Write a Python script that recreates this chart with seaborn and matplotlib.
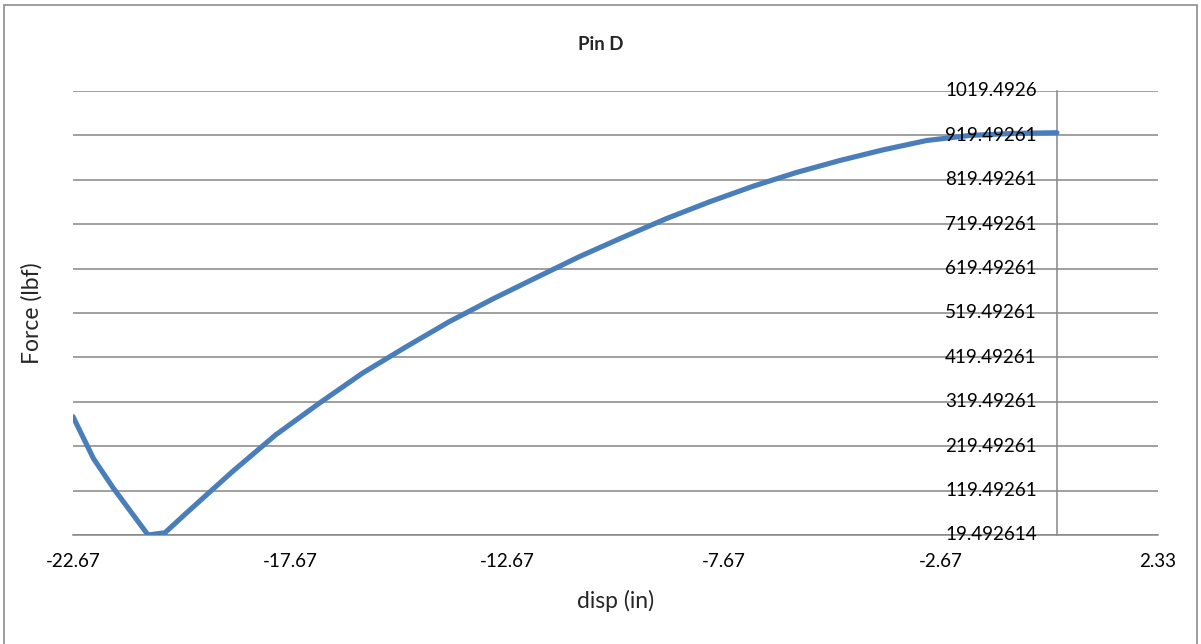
import matplotlib
matplotlib.use("Agg")
import matplotlib.pyplot as plt
import seaborn as sns
import pandas as pd
from matplotlib.patches import Rectangle

# ---- data ----
disp = [-22.67, -22.20, -21.74, -20.94, -20.55, -20.0, -19.0, -18.0, -17.0,
        -16.0, -15.0, -14.0, -13.0, -12.0, -11.0, -10.0, -9.0, -8.0, -7.0,
        -6.0, -5.0, -4.0, -3.0, -2.0, -1.0, 0.0]
force = [286.0, 192.0, 125.0, 19.5, 24.7, 74.0, 162.0, 245.0, 316.0,
         384.0, 443.0, 500.0, 551.0, 599.0, 646.5, 690.0, 732.0, 770.0, 805.0,
         836.0, 863.0, 887.0, 908.0, 919.5, 924.0, 925.6]
x_ticks = [-22.67, -17.67, -12.67, -7.67, -2.67, 2.33]
x_tick_labels = ["-22.67", "-17.67", "-12.67", "-7.67", "-2.67", "2.33"]
y_ticks = [19.492614, 119.49261, 219.49261, 319.49261, 419.49261, 519.49261,
           619.49261, 719.49261, 819.49261, 919.49261, 1019.4926]
y_tick_labels = ["19.492614", "119.49261", "219.49261", "319.49261", "419.49261",
                 "519.49261", "619.49261", "719.49261", "819.49261", "919.49261",
                 "1019.4926"]
title = "Pin D"
x_label = "disp (in)"
y_label = "Force (lbf)"

sns.set_style("white")
plt.rcParams["font.family"] = ["Lato", "DejaVu Sans"]

W, H = 1201, 644
fig = plt.figure(figsize=(W / 100, H / 100), dpi=100)
ax = fig.add_axes([73 / W, (H - 535) / H, 1085 / W, 444 / H])

df = pd.DataFrame({"disp": disp, "force": force})
sns.lineplot(data=df, x="disp", y="force", sort=False, ax=ax,
             color="#4A7EBB", linewidth=3.7, solid_capstyle="round",
             solid_joinstyle="round", zorder=5)

grid_col = "#868686"
ax.set_xlim(x_ticks[0], x_ticks[-1])
ax.set_ylim(y_ticks[0], y_ticks[-1])
ax.set_xticks(x_ticks)
ax.set_xticklabels(x_tick_labels)
ax.set_yticks(y_ticks)
ax.set_yticklabels([])

# y tick labels drawn above the curve, as in the reference
for yv, lab in zip(y_ticks, y_tick_labels):
    ax.annotate(lab, xy=(0, yv), xycoords="data", xytext=(-14.5, 0),
                textcoords="offset points", ha="right", va="center",
                fontsize=13.5, color="black", zorder=10, annotation_clip=False)

ax.yaxis.grid(True, color=grid_col, linewidth=1.1)
ax.xaxis.grid(False)
ax.set_axisbelow(True)

for s in ["top", "right"]:
    ax.spines[s].set_visible(False)
ax.spines["left"].set_position(("data", 0))
ax.spines["left"].set_color(grid_col)
ax.spines["left"].set_linewidth(1.1)
ax.spines["bottom"].set_color(grid_col)
ax.spines["bottom"].set_linewidth(1.1)

ax.tick_params(axis="y", direction="inout", length=8, width=1.1, color=grid_col)
ax.tick_params(axis="x", direction="out", length=5, width=1.1, color=grid_col,
               pad=8, labelsize=13.5, labelcolor="black")

ax.set_xlabel(x_label, fontsize=16.5, labelpad=14)
ax.set_ylabel(y_label, fontsize=16.5)
ax.yaxis.set_label_coords(-0.0276, 0.5)

fig.text(0.5, (H - 45) / H, title, ha="center", va="center",
         fontsize=13.5, fontweight="bold")

fig.patches.append(Rectangle((4 / W, -0.05), (1197 - 4) / W, (H - 5) / H + 0.05,
                             transform=fig.transFigure, fill=False,
                             edgecolor="#8c8c8c", linewidth=1.2))

fig.savefig("out.png", dpi=100)
